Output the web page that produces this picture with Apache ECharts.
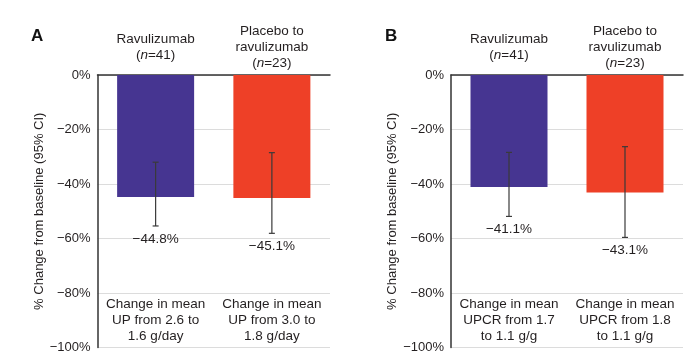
<!DOCTYPE html>
<html><head><meta charset="utf-8">
<script src="https://cdn.jsdelivr.net/npm/echarts@6/dist/echarts.min.js"></script>
<style>html,body{margin:0;padding:0;background:#fff}#c{width:696px;height:359px}</style>
</head><body><div id="c"></div>
<script>
const groupNames = ['Ravulizumab', 'Placebo to\nravulizumab'];
const groupN = [41, 23];
const panelAMeans = [-44.8, -45.1];
const panelALow = [-55.4, -58.1];
const panelAHigh = [-32.0, -28.5];
const panelAOutcomes = ['Change in mean\nUP from 2.6 to\n1.6 g/day', 'Change in mean\nUP from 3.0 to\n1.8 g/day'];
const panelBMeans = [-41.1, -43.1];
const panelBLow = [-51.9, -59.6];
const panelBHigh = [-28.4, -26.3];
const panelBOutcomes = ['Change in mean\nUPCR from 1.7\nto 1.1 g/g', 'Change in mean\nUPCR from 1.8\nto 1.1 g/g'];
const yMin = -100, yMax = 0, yStep = 20;
const panelLetters = ['A', 'B'];
const yTitle = '% Change from baseline (95% CI)';
const barColors = ['#463591', '#ee4027'];

const FONT = '"Liberation Sans", Arial, Helvetica, sans-serif';
const TXT = '#231f20';
const FS = 13.5;
const minus = v => (v < 0 ? '\u2212' : '') + Math.abs(v);

const topCats = groupNames.map((g, i) => g + '\n({i|n}=' + groupN[i] + ')');

function xAxesFor(gridIndex, outcomes) {
  return [
    { type: 'category', gridIndex, position: 'top', data: topCats,
      axisLine: { show: true, lineStyle: { color: '#333', width: 1.5 } },
      axisTick: { show: false },
      axisLabel: { interval: 0, margin: 28, verticalAlign: 'middle', color: TXT, fontFamily: FONT, fontSize: FS, lineHeight: 16,
        rich: { i: { fontStyle: 'italic', fontFamily: FONT, fontSize: FS, color: TXT, lineHeight: 16 } } } },
    { type: 'category', gridIndex, position: 'bottom', data: outcomes,
      axisLine: { show: false }, axisTick: { show: false },
      axisLabel: { interval: 0, inside: true, margin: 27, verticalAlign: 'middle', color: TXT, fontFamily: FONT, fontSize: FS, lineHeight: 16 } }
  ];
}
function yAxisFor(gridIndex) {
  return { type: 'value', gridIndex, min: yMin, max: yMax, interval: yStep,
    name: yTitle, nameLocation: 'middle', nameGap: 52, nameRotate: 90,
    nameTextStyle: { color: TXT, fontFamily: FONT, fontSize: 13 },
    axisLine: { show: true, lineStyle: { color: '#333', width: 1.5 } },
    axisTick: { show: false },
    axisLabel: { formatter: v => minus(v) + '%', color: TXT, fontFamily: FONT, fontSize: 13, margin: 7 },
    splitLine: { show: true, lineStyle: { color: '#dcdcdc', width: 1 } } };
}
function errSeries(xAxisIndex, yAxisIndex, means, low, high) {
  return { type: 'custom', xAxisIndex, yAxisIndex, z: 5,
    data: means.map((m, i) => [i, low[i], high[i], m]),
    renderItem: (params, api) => {
      const lo = api.coord([api.value(0), api.value(1)]);
      const hi = api.coord([api.value(0), api.value(2)]);
      const x = lo[0], cap = 3;
      const st = { stroke: '#3a3a3a', lineWidth: 1.2 };
      return { type: 'group', children: [
        { type: 'line', shape: { x1: x, y1: hi[1], x2: x, y2: lo[1] }, style: st },
        { type: 'line', shape: { x1: x - cap, y1: hi[1], x2: x + cap, y2: hi[1] }, style: st },
        { type: 'line', shape: { x1: x - cap, y1: lo[1], x2: x + cap, y2: lo[1] }, style: st },
        { type: 'text', x: x, y: lo[1] + 6, style: { text: minus(api.value(3)) + '%', fill: TXT,
          font: FS + 'px ' + FONT, textAlign: 'center', textVerticalAlign: 'top' } }
      ] };
    } };
}
function barSeries(xAxisIndex, yAxisIndex, means) {
  return { type: 'bar', xAxisIndex, yAxisIndex, barWidth: 77,
    data: means.map((v, i) => ({ value: v, itemStyle: { color: barColors[i] } })) };
}

const chart = echarts.init(document.getElementById('c'));
chart.setOption({
  animation: false,
  title: [
    { text: panelLetters[0], left: 26, top: 23, textStyle: { fontFamily: FONT, fontSize: 17, fontWeight: 'bold', color: '#111' } },
    { text: panelLetters[1], left: 380, top: 23, textStyle: { fontFamily: FONT, fontSize: 17, fontWeight: 'bold', color: '#111' } }
  ],
  grid: [
    { left: 97.5, right: 366, top: 75, bottom: 11.5 },
    { left: 451, right: 13, top: 75, bottom: 11.5 }
  ],
  xAxis: [...xAxesFor(0, panelAOutcomes), ...xAxesFor(1, panelBOutcomes)],
  yAxis: [yAxisFor(0), yAxisFor(1)],
  series: [
    barSeries(0, 0, panelAMeans), errSeries(1, 0, panelAMeans, panelALow, panelAHigh),
    barSeries(2, 1, panelBMeans), errSeries(3, 1, panelBMeans, panelBLow, panelBHigh)
  ]
});
</script></body></html>
